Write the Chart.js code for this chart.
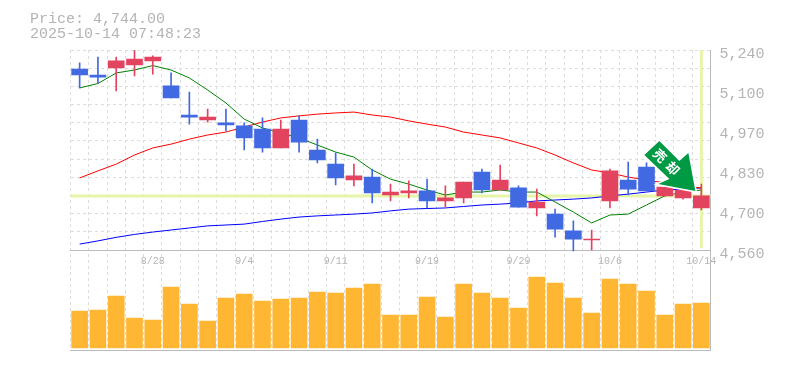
<!DOCTYPE html>
<html lang="ja">
<head>
    <meta charset="UTF-8">
    <title>Price chart</title>
    <script src="https://cdn.jsdelivr.net/npm/chart.js"></script>
    <style>
        body {
            margin: 0;
            background-color: #ffffff;
        }
        #wrap {
            position: relative;
            width: 785px;
            height: 370px;
        }
        #info {
            position: absolute;
            left: 30px;
            top: 12px;
            font: 15px/15px 'Liberation Mono', monospace;
            color: #b4b4b4;
            white-space: pre;
        }
    </style>
</head>
<body>
    <div id="wrap">
        <canvas id="myChart" width="785" height="370"></canvas>
        <div id="info">Price: 4,744.00
2025-10-14 07:48:23</div>
    </div>

    <script>
        const dates = ['8/22', '8/25', '8/26', '8/27', '8/28', '8/29', '9/1', '9/2', '9/3', '9/4',
            '9/5', '9/8', '9/9', '9/10', '9/11', '9/12', '9/16', '9/17', '9/18', '9/19',
            '9/22', '9/24', '9/25', '9/26', '9/29', '9/30', '10/1', '10/2', '10/3', '10/6',
            '10/7', '10/8', '10/9', '10/10', '10/14'];

        const open = [5175, 5155, 5179, 5189, 5203, 5118, 5019, 5002, 4992, 4982,
            4971, 4907, 5002, 4900, 4852, 4798, 4808, 4747, 4754, 4761,
            4727, 4737, 4825, 4764, 4771, 4703, 4682, 4625, 4594, 4727,
            4798, 4842, 4744, 4737, 4703];
        const close = [5155, 5148, 5203, 5209, 5216, 5077, 5012, 5012, 4985, 4941,
            4907, 4971, 4927, 4866, 4805, 4812, 4754, 4757, 4761, 4727,
            4737, 4791, 4764, 4798, 4706, 4723, 4631, 4597, 4597, 4829,
            4767, 4761, 4774, 4764, 4744];
        const high = [5196, 5216, 5216, 5240, 5220, 5162, 5097, 5039, 5039, 4992,
            5009, 5002, 5016, 4937, 4890, 4852, 4835, 4784, 4795, 4801,
            4778, 4791, 4835, 4849, 4778, 4767, 4699, 4659, 4628, 4835,
            4859, 4856, 4774, 4767, 4784];
        const low = [5111, 5128, 5101, 5152, 5158, 5077, 4988, 4995, 4965, 4900,
            4893, 4907, 4893, 4856, 4781, 4778, 4720, 4727, 4737, 4703,
            4706, 4720, 4754, 4764, 4706, 4676, 4604, 4557, 4560, 4703,
            4747, 4761, 4744, 4733, 4696];

        const ma5 = [5111, 5126, 5162, 5172, 5187, 5172, 5145, 5104, 5060, 5005,
            4975, 4958, 4941, 4917, 4893, 4876, 4832, 4801, 4784, 4764,
            4747, 4757, 4757, 4764, 4757, 4757, 4723, 4689, 4652, 4679,
            4682, 4713, 4744, 4757, 4764];
        const ma25 = [4805, 4829, 4852, 4883, 4907, 4920, 4937, 4951, 4961, 4978,
            4995, 5009, 5016, 5022, 5026, 5029, 5019, 5012, 4999, 4988,
            4978, 4961, 4951, 4941, 4924, 4907, 4883, 4856, 4832, 4822,
            4808, 4798, 4788, 4778, 4771];
        const ma75 = [4580, 4591, 4603, 4613, 4621, 4628, 4635, 4642, 4645, 4648,
            4657, 4665, 4672, 4676, 4679, 4682, 4686, 4693, 4699, 4701,
            4703, 4708, 4713, 4716, 4720, 4727, 4730, 4733, 4737, 4744,
            4750, 4757, 4764, 4767, 4771];

        const volume = [37, 38, 52, 30, 28, 61, 44, 27, 50, 54,
            47, 49, 50, 56, 55, 60, 64, 33, 33, 51,
            31, 64, 55, 50, 40, 71, 65, 50, 35, 69,
            64, 57, 33, 44, 45];

        const priceTicks = [5240, 5104, 4968, 4832, 4696, 4560];
        const priceTickLabels = ['5,240', '5,100', '4,970', '4,830', '4,700', '4,560'];
        const gridSteps = [5.5, 6.5, 7.5, 8.5, 9.5, 10.5, 11.5, 12.5, 13.5, 14.5, 15.5, 16.5];
        const lastPrice = 4744;
        const signalText = ['売', '却'];

        const UP = '#e2435f';
        const DOWN = '#4169e1';
        const bodyColors = close.map((c, i) => c >= open[i] ? UP : DOWN);

        // last price cross, under the candles
        const crossPlugin = {
            id: 'cross',
            beforeDatasetsDraw(chart) {
                const { ctx, chartArea, scales } = chart;
                const y = scales.y.getPixelForValue(lastPrice);
                const x = scales.x.getPixelForValue(dates.length - 1);
                ctx.save();
                ctx.strokeStyle = '#e6f5a8';
                ctx.lineWidth = 3;
                ctx.beginPath();
                ctx.moveTo(chartArea.left, y);
                ctx.lineTo(chartArea.right, y);
                ctx.moveTo(x, chartArea.top);
                ctx.lineTo(x, scales.y.getPixelForValue(4566));
                ctx.stroke();
                ctx.restore();
            }
        };

        // the green signal arrow, tip placed on the last candles
        const arrowPlugin = {
            id: 'arrow',
            afterDatasetsDraw(chart) {
                const { ctx, scales } = chart;
                const tipX = scales.x.getPixelForValue(dates.length - 1) - 6;
                const tipY = scales.y.getPixelForValue(4774) + 4;
                const shape = [[0, 0], [-7, -38], [-16, -30], [-36, -50], [-51, -36], [-26, -12], [-37, -7]];
                ctx.save();
                ctx.translate(tipX, tipY);
                ctx.beginPath();
                shape.forEach((p, i) => i ? ctx.lineTo(p[0], p[1]) : ctx.moveTo(p[0], p[1]));
                ctx.closePath();
                ctx.lineJoin = 'miter';
                ctx.lineWidth = 3;
                ctx.strokeStyle = '#ffffff';
                ctx.stroke();
                ctx.fillStyle = '#009944';
                ctx.fill();
                ctx.translate(-29, -29);
                ctx.rotate(Math.PI / 4);
                ctx.fillStyle = '#ffffff';
                ctx.font = 'bold 13px "Noto Sans CJK JP"';
                ctx.textAlign = 'center';
                ctx.textBaseline = 'middle';
                ctx.fillText(signalText[0], -9, 0);
                ctx.fillText(signalText[1], 9, 0);
                ctx.restore();
            }
        };

        const ctx = document.getElementById('myChart').getContext('2d');
        const myChart = new Chart(ctx, {
            data: {
                labels: dates,
                datasets: [
                    { type: 'bar', label: 'Volume', data: volume, yAxisID: 'yVol', backgroundColor: '#ffb733', barThickness: 16, grouped: false, order: 5 },
                    { type: 'line', label: 'MA5', data: ma5, borderColor: '#008000', borderWidth: 1, pointRadius: 0, tension: 0, order: 3 },
                    { type: 'line', label: 'MA25', data: ma25, borderColor: '#ff0000', borderWidth: 1, pointRadius: 0, tension: 0, order: 3 },
                    { type: 'line', label: 'MA75', data: ma75, borderColor: '#0000ff', borderWidth: 1, pointRadius: 0, tension: 0, order: 3 },
                    { type: 'bar', label: 'Range', data: dates.map((d, i) => [low[i], high[i]]), backgroundColor: bodyColors, barThickness: 1, grouped: false, order: 2 },
                    { type: 'bar', label: 'Body', data: dates.map((d, i) => [open[i], close[i]]), backgroundColor: bodyColors, barThickness: 16, grouped: false, minBarLength: 1, order: 1 }
                ]
            },
            options: {
                responsive: false,
                animation: false,
                layout: { padding: { top: 50, bottom: 20, left: 70.5, right: 0 } },
                plugins: {
                    legend: { display: false },
                    tooltip: { enabled: false }
                },
                scales: {
                    x: {
                        type: 'category',
                        position: { y: 4560 },
                        grid: { color: '#dddddd', tickLength: 0, drawTicks: false, offset: true },
                        border: { color: '#bbbbbb', dash: [3, 3] },
                        ticks: {
                            autoSkip: false,
                            maxRotation: 0,
                            padding: 5,
                            color: '#b4b4b4',
                            font: { family: "'Liberation Mono', monospace", size: 10 },
                            callback(value, index) {
                                return index % 5 === 4 ? dates[index] : '';
                            }
                        }
                    },
                    xBottom: {
                        type: 'category',
                        position: 'bottom',
                        afterFit(axis) {
                            axis.height = 0;
                        },
                        grid: { display: false },
                        border: { color: '#bbbbbb' },
                        ticks: { display: false }
                    },
                    y: {
                        position: 'right',
                        min: 4220,
                        max: 5240,
                        afterBuildTicks(axis) {
                            axis.ticks = priceTicks.map(v => ({ value: v }));
                        },
                        afterFit(axis) {
                            axis.width = 74.5;
                        },
                        grid: { display: false },
                        border: { color: '#bbbbbb' },
                        ticks: {
                            padding: 1,
                            labelOffset: 4,
                            color: '#b4b4b4',
                            font: { family: "'Liberation Mono', monospace", size: 15 },
                            callback(value) {
                                return priceTickLabels[priceTicks.indexOf(value)];
                            }
                        }
                    },
                    yGrid: {
                        position: 'left',
                        min: 0,
                        max: 16.5,
                        afterBuildTicks(axis) {
                            axis.ticks = gridSteps.map(v => ({ value: v }));
                        },
                        afterFit(axis) {
                            axis.width = 0;
                        },
                        grid: { color: '#dddddd', drawTicks: false, tickLength: 0 },
                        border: { display: false, dash: [3, 3] },
                        ticks: { display: false }
                    },
                    yVol: {
                        display: false,
                        min: -2,
                        max: 298
                    }
                }
            },
            plugins: [crossPlugin, arrowPlugin]
        });
    </script>
</body>
</html>
